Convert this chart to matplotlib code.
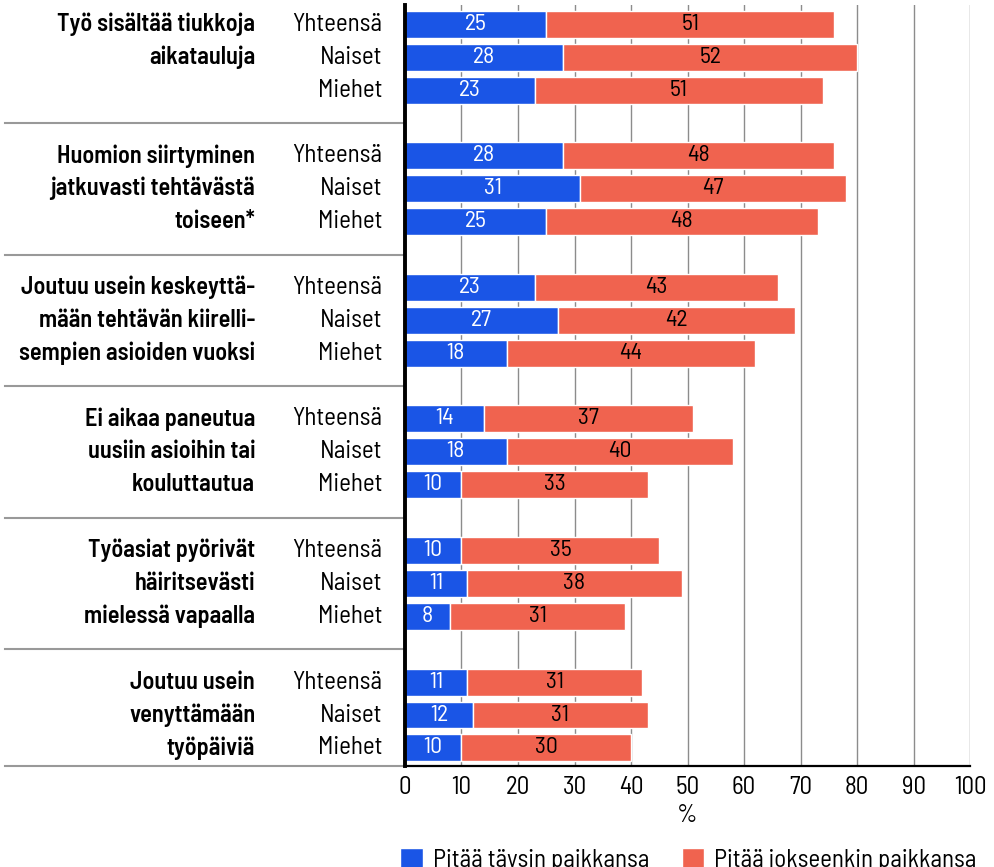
import matplotlib.pyplot as plt
import matplotlib.transforms as mtransforms
import numpy as np

plt.rcParams['font.family'] = ['Barlow Semi Condensed', 'Barlow', 'Roboto', 'DejaVu Sans']

groups = ["Työ sisältää tiukkoja\naikatauluja",
          "Huomion siirtyminen\njatkuvasti tehtävästä\ntoiseen*",
          "Joutuu usein keskeyttä-\nmään tehtävän kiirelli-\nsempien asioiden vuoksi",
          "Ei aikaa paneutua\nuusiin asioihin tai\nkouluttautua",
          "Työasiat pyörivät\nhäiritsevästi\nmielessä vapaalla",
          "Joutuu usein\nvenyttämään\ntyöpäiviä"]
subgroups = ["Yhteensä", "Naiset", "Miehet"]
taysin = [[25, 28, 23], [28, 31, 25], [23, 27, 18],
          [14, 18, 10], [10, 11, 8], [11, 12, 10]]
jokseenkin = [[51, 52, 51], [48, 47, 48], [43, 42, 44],
              [37, 40, 33], [35, 38, 31], [31, 31, 30]]
series_names = ["Pitää täysin paikkansa", "Pitää jokseenkin paikkansa"]
xticks = list(range(0, 101, 10))

blue = "#1a55e6"
red = "#f0634f"

fig = plt.figure(figsize=(9.95, 8.67), dpi=100)
ax = fig.add_axes([0.407, 0.1165, 0.568, 0.8775])

ypos = []
for g in range(len(groups)):
    for s in range(3):
        ypos.append(g * 4 + s)
ypos = np.array(ypos)
a = np.array(taysin).ravel()
b = np.array(jokseenkin).ravel()

ax.barh(ypos, a, height=0.82, color=blue, edgecolor="white", linewidth=1, zorder=3,
        label=series_names[0])
ax.barh(ypos, b, left=a, height=0.82, color=red, edgecolor="white", linewidth=1,
        zorder=3, label=series_names[1])
for y, va_, vb in zip(ypos, a, b):
    ax.text(va_ / 2, y, str(va_), ha="center", va="center", color="white",
            fontsize=17, zorder=4)
    ax.text(va_ + vb / 2, y, str(vb), ha="center", va="center", color="black",
            fontsize=17, zorder=4)

ax.set_xlim(0, 100)
ax.set_ylim(22.55, -0.58)
ax.set_xticks(xticks)
ax.set_yticks([])
ax.tick_params(axis="x", length=0, labelsize=18, pad=7)
ax.xaxis.grid(True, color="#8c8c8c", linewidth=1, zorder=0)
ax.set_axisbelow(True)
ax.set_xlabel("%", fontsize=18, labelpad=4)
for sp in ["top", "right"]:
    ax.spines[sp].set_visible(False)
ax.spines["left"].set_linewidth(2.8)
ax.spines["left"].set_zorder(5)
ax.spines["bottom"].set_linewidth(1.6)

trans = mtransforms.blended_transform_factory(ax.transAxes, ax.transData)
for g, label in enumerate(groups):
    for i, line in enumerate(label.split("\n")):
        ax.text(-0.265, g * 4 + i, line, transform=trans, ha="right", va="center",
                fontsize=17.5, fontweight="semibold")
    for s, sub in enumerate(subgroups):
        ax.text(-0.04, g * 4 + s, sub, transform=trans, ha="right", va="center",
                fontsize=18)
    if g < len(groups) - 1:
        ax.plot([-0.708, 0], [g * 4 + 3, g * 4 + 3], transform=trans,
                color="#999999", linewidth=1.5, clip_on=False)
ax.plot([-0.708, 0], [22.55, 22.55], transform=trans, color="#999999",
        linewidth=1.5, clip_on=False)

handles, labels = ax.get_legend_handles_labels()
fig.legend(handles, labels, loc="center", bbox_to_anchor=(0.692, 0.008), ncol=2,
           frameon=False, fontsize=18, handlelength=0.9, handleheight=0.9,
           columnspacing=1.3, handletextpad=0.4)

fig.savefig("out.png", dpi=100)
